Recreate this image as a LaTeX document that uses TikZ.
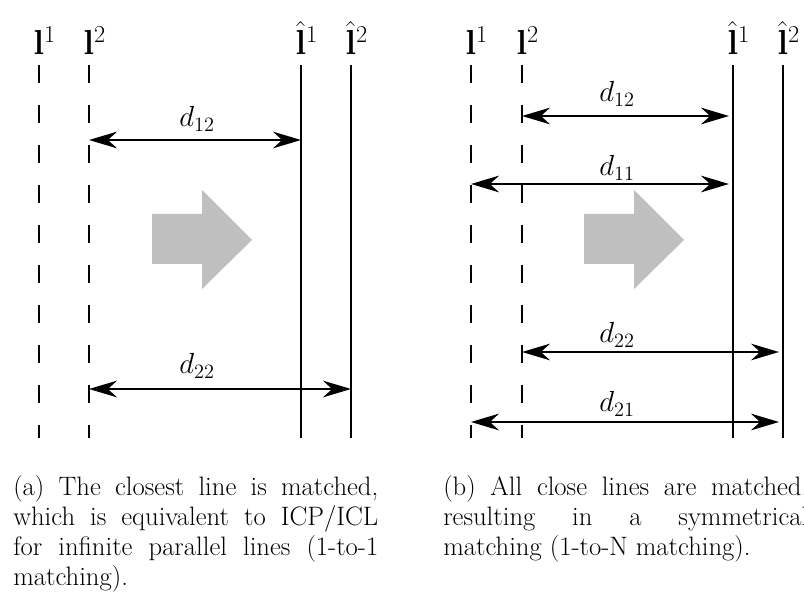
\RequirePackage{fix-cm}
\documentclass[tikz,border=0pt]{standalone}
\usetikzlibrary{arrows.meta}

% superscript that takes no horizontal room, so the base letter sits centred
\newcommand{\zsup}[1]{\makebox[0pt][l]{$\scriptstyle #1$}}

\tikzset{
  refline/.style={line width=2pt},
  matchline/.style={refline, dash pattern=on 13.5pt off 16.5pt},
  dist/.style={line width=1.3pt,
    {Stealth[length=21pt,width=12.5pt]}-{Stealth[length=21pt,width=12.5pt]}},
  linelabel/.style={anchor=base, inner sep=0pt, font=\fontsize{26}{30}\selectfont},
  distlabel/.style={anchor=base, inner sep=0pt, font=\fontsize{21.8}{26}\selectfont},
  movearrow/.style={fill=black!25, draw=none},
  captext/.style={anchor=base west, inner sep=0pt, text width=273.75pt,
    align=justify, font=\fontsize{20}{22.7}\selectfont}
}

\begin{document}
\begin{tikzpicture}[x=0.75pt, y=-0.75pt]
\useasboundingbox (0,0) rectangle (804,595);
\clip (0,0) rectangle (804,595);

% ---------------- (a) closest line only ----------------
\node[linelabel] (a-l1-lab) at (39,55)  {$\mathbf{l}^{\zsup{1}}$};
\node[linelabel] (a-l2-lab) at (89,55)  {$\mathbf{l}^{\zsup{2}}$};
\node[linelabel] (a-h1-lab) at (301,55) {$\hat{\mathbf{l}}^{\zsup{1}}$};
\node[linelabel] (a-h2-lab) at (351,55) {$\hat{\mathbf{l}}^{\zsup{2}}$};

\coordinate (a-l1-top) at (39,65);  \coordinate (a-l1-bot) at (39,438);
\coordinate (a-l2-top) at (89,65);  \coordinate (a-l2-bot) at (89,438);
\coordinate (a-h1-top) at (301,65); \coordinate (a-h1-bot) at (301,438);
\coordinate (a-h2-top) at (351,65); \coordinate (a-h2-bot) at (351,438);

\draw[matchline] (a-l1-top) -- (a-l1-bot);
\draw[matchline] (a-l2-top) -- (a-l2-bot);
\draw[refline]   (a-h1-top) -- (a-h1-bot);
\draw[refline]   (a-h2-top) -- (a-h2-bot);

\draw[dist] (a-l2-top |- 0,140) -- (a-h1-top |- 0,140);
\node[distlabel] (a-d12) at (197,127) {$d_{12}$};
\draw[dist] (a-l2-top |- 0,389) -- (a-h2-top |- 0,389);
\node[distlabel] (a-d22) at (197,374) {$d_{22}$};

\fill[movearrow] (152,214) -- (202,214) -- (202,190) -- (252,240)
  -- (202,289) -- (202,264) -- (152,264) -- cycle;

\node[captext] (a-cap) at (13,495)
  {(a) The closest line is matched,\linebreak
   which is equivalent to ICP/ICL\linebreak
   for infinite parallel lines (1-to-1\linebreak
   matching).};

% ---------------- (b) all close lines ----------------
\node[linelabel] (b-l1-lab) at (471,55) {$\mathbf{l}^{\zsup{1}}$};
\node[linelabel] (b-l2-lab) at (522,55) {$\mathbf{l}^{\zsup{2}}$};
\node[linelabel] (b-h1-lab) at (733,55) {$\hat{\mathbf{l}}^{\zsup{1}}$};
\node[linelabel] (b-h2-lab) at (783,55) {$\hat{\mathbf{l}}^{\zsup{2}}$};

\coordinate (b-l1-top) at (471,65); \coordinate (b-l1-bot) at (471,438);
\coordinate (b-l2-top) at (522,65); \coordinate (b-l2-bot) at (522,438);
\coordinate (b-h1-top) at (733,65); \coordinate (b-h1-bot) at (733,438);
\coordinate (b-h2-top) at (783,65); \coordinate (b-h2-bot) at (783,438);

\draw[matchline] (b-l1-top) -- (b-l1-bot);
\draw[matchline] (b-l2-top) -- (b-l2-bot);
\draw[refline]   (b-h1-top) -- (b-h1-bot);
\draw[refline]   (b-h2-top) -- (b-h2-bot);

\draw[dist, shorten >=3pt] (b-l2-top |- 0,116) -- (b-h1-top |- 0,116);
\node[distlabel] (b-d12) at (617,102) {$d_{12}$};
\draw[dist, shorten >=3pt] (b-l1-top |- 0,184) -- (b-h1-top |- 0,184);
\node[distlabel] (b-d11) at (617,176) {$d_{11}$};
\draw[dist, shorten >=3pt] (b-l2-top |- 0,352) -- (b-h2-top |- 0,352);
\node[distlabel] (b-d22) at (617,343) {$d_{22}$};
\draw[dist, shorten >=3pt] (b-l1-top |- 0,422) -- (b-h2-top |- 0,422);
\node[distlabel] (b-d21) at (617,412) {$d_{21}$};

\fill[movearrow] (584,214) -- (634,214) -- (634,190) -- (684,240)
  -- (634,289) -- (634,264) -- (584,264) -- cycle;

\node[captext] (b-cap) at (443,495)
  {(b) All close lines are matched,\linebreak
   resulting in a symmetrical\linebreak
   matching (1-to-N matching).};
\end{tikzpicture}
\end{document}
